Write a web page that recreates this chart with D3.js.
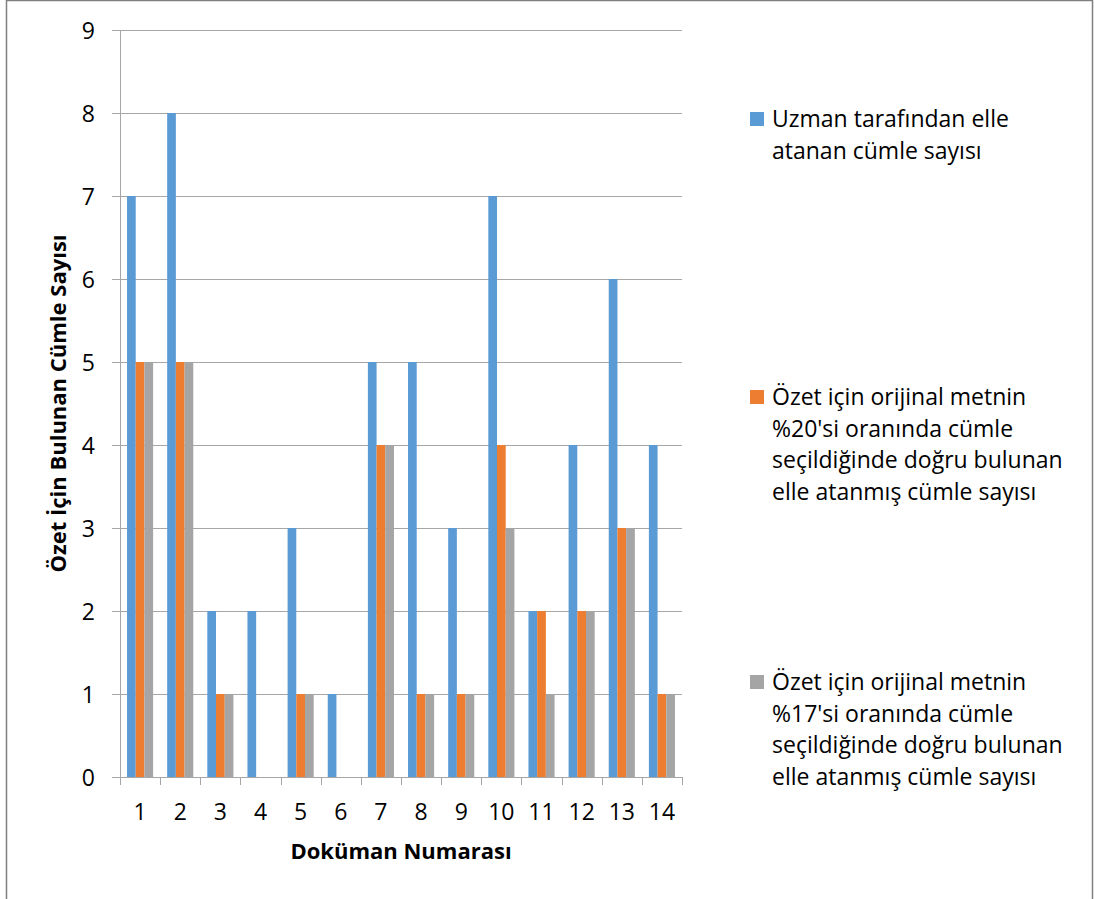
<!DOCTYPE html>
<html>
<head>
<meta charset="utf-8">
<script src="https://cdn.jsdelivr.net/npm/d3@7"></script>
<style>
  body { margin: 0; background: #fff; }
  svg { display: block; }
  svg text { font-family: "Open Sans", sans-serif; }
  .axis path, .axis line { stroke: #a6a6a6; }
  .axis text { fill: #000; font-size: 23px; }
</style>
</head>
<body>
<svg id="chart" width="1094" height="899"></svg>
<script>
'use strict';

var documents = ['1', '2', '3', '4', '5', '6', '7', '8', '9', '10', '11', '12', '13', '14'];
var expert = [7, 8, 2, 2, 3, 1, 5, 5, 3, 7, 2, 4, 6, 4];
var ratio20 = [5, 5, 1, 0, 1, 0, 4, 1, 1, 4, 2, 2, 3, 1];
var ratio17 = [5, 5, 1, 0, 1, 0, 4, 1, 1, 3, 1, 2, 3, 1];
var yTicks = [0, 1, 2, 3, 4, 5, 6, 7, 8, 9];

var seriesNames = [
  ['Uzman tarafından elle', 'atanan cümle sayısı'],
  ['Özet için orijinal metnin', "%20'si oranında cümle", 'seçildiğinde doğru bulunan', 'elle atanmış cümle sayısı'],
  ['Özet için orijinal metnin', "%17'si oranında cümle", 'seçildiğinde doğru bulunan', 'elle atanmış cümle sayısı']
];
var colors = ['#5b9bd5', '#ed7d31', '#a5a5a5'];
var seriesValues = [expert, ratio20, ratio17];

var svg = d3.select('#chart'),
  margin = {top: 30, left: 120},
  width = 562,
  height = 747,
  g = svg.append('g').attr('transform', 'translate(' + margin.left + ',' + margin.top + ')');

// outer frame of the chart area
svg.append('rect')
  .attr('x', 6.5).attr('y', 0.5)
  .attr('width', 1086).attr('height', 920)
  .attr('fill', 'none')
  .attr('stroke', '#7f7f7f')
  .attr('stroke-width', 1.5);

var x = d3.scaleBand()
  .domain(documents)
  .range([0, width])
  .paddingInner(0.35)
  .paddingOuter(0.175);

var xs = d3.scaleBand()
  .domain(d3.range(seriesValues.length))
  .range([0, x.bandwidth()]);

var y = d3.scaleLinear()
  .domain([0, 9])
  .range([height, 0]);

// gridlines
g.append('g')
  .selectAll('line')
  .data(yTicks)
  .enter().append('line')
  .attr('x1', -8)
  .attr('x2', width)
  .attr('y1', function (d) { return y(d) + 0.5; })
  .attr('y2', function (d) { return y(d) + 0.5; })
  .attr('stroke', '#a6a6a6');

var yAxis = g.append('g')
  .attr('class', 'axis axis--y')
  .call(d3.axisLeft(y).tickValues(yTicks).tickSize(0).tickPadding(25));
yAxis.selectAll('text').attr('dy', '0.36em');

// bars
var groups = g.append('g')
  .selectAll('g')
  .data(documents)
  .enter().append('g')
  .attr('transform', function (d) { return 'translate(' + x(d) + ',0)'; });

groups.selectAll('rect')
  .data(function (d, i) {
    return seriesValues.map(function (s, k) { return {k: k, v: s[i]}; });
  })
  .enter().append('rect')
  .attr('x', function (d) { return xs(d.k); })
  .attr('width', xs.bandwidth())
  .attr('y', function (d) { return y(d.v); })
  .attr('height', function (d) { return y(0) - y(d.v); })
  .attr('fill', function (d) { return colors[d.k]; });

// x axis with ticks between categories
var xAxis = g.append('g')
  .attr('class', 'axis axis--x')
  .attr('transform', 'translate(0,' + height + ')')
  .call(d3.axisBottom(x).tickSize(0).tickSizeOuter(0));
xAxis.selectAll('text').attr('y', 0).attr('dy', 43);

var step = x.step();
xAxis.selectAll('.sep')
  .data(d3.range(documents.length + 1))
  .enter().append('line')
  .attr('class', 'sep')
  .attr('x1', function (d) { return Math.round(d * step) + 0.5; })
  .attr('x2', function (d) { return Math.round(d * step) + 0.5; })
  .attr('y1', 0)
  .attr('y2', 8);

// axis titles
svg.append('text')
  .attr('x', margin.left + width / 2)
  .attr('y', 859)
  .attr('text-anchor', 'middle')
  .attr('font-weight', 'bold')
  .attr('font-size', 22)
  .text('Doküman Numarası');

svg.append('text')
  .attr('transform', 'translate(66,' + (margin.top + height / 2) + ') rotate(-90)')
  .attr('text-anchor', 'middle')
  .attr('font-weight', 'bold')
  .attr('font-size', 22)
  .text('Özet İçin Bulunan Cümle Sayısı');

// legend
var legendTop = [127, 405, 690];
var legend = svg.append('g')
  .selectAll('g')
  .data(seriesNames)
  .enter().append('g')
  .attr('transform', function (d, i) { return 'translate(750,' + legendTop[i] + ')'; });

legend.append('rect')
  .attr('x', 0).attr('y', -15)
  .attr('width', 14).attr('height', 14)
  .attr('fill', function (d, i) { return colors[i]; });

legend.append('text')
  .attr('font-size', 23)
  .attr('fill', '#000')
  .selectAll('tspan')
  .data(function (d) { return d; })
  .enter().append('tspan')
  .attr('x', 22)
  .attr('y', function (d, i) { return i * 31.7; })
  .text(function (d) { return d; });
</script>
</body>
</html>
